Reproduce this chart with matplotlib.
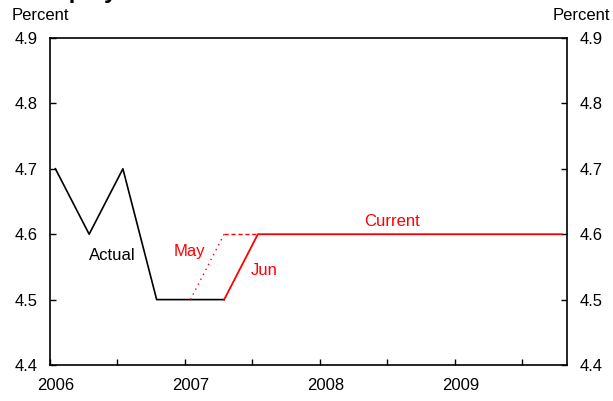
import matplotlib
matplotlib.use('Agg')
import matplotlib.pyplot as plt
import numpy as np

plt.rcParams['font.family'] = ['Liberation Sans', 'DejaVu Sans']

# quarterly points, plotted slightly after quarter start
q0 = 2006.04
actual = [4.7, 4.6, 4.7, 4.5, 4.5, 4.5]
may = [4.5, 4.6, 4.6]          # starts 2007Q1
jun = [4.5] + [4.6] * 10       # starts 2007Q2
year_labels = ['2006', '2007', '2008', '2009']
y_ticks = [4.4, 4.5, 4.6, 4.7, 4.8, 4.9]

x_act = q0 + 0.25 * np.arange(len(actual))
x_may = q0 + 1.0 + 0.25 * np.arange(len(may))
x_jun = q0 + 1.25 + 0.25 * np.arange(len(jun))

fig = plt.figure(figsize=(6.13, 4.01), dpi=100)
ax = fig.add_axes([50 / 613, 36 / 401, 517 / 613, 327 / 401])

ax.plot(x_act, actual, color='black', lw=1.2)
ax.plot(x_may[:2], may[:2], color='red', lw=1.0, ls=(0, (1, 3)))
ax.plot(x_may[1:], may[1:], color='red', lw=1.0, ls=(0, (3, 2)))
ax.plot(x_jun, jun, color='red', lw=1.3)

ax.set_xlim(2006.0, 2006.0 + 517 / 135)
ax.set_ylim(4.4, 4.9)
ax.set_yticks(y_ticks)
ax.set_yticklabels(['%.1f' % v for v in y_ticks])
ax.set_xticks(np.arange(2006.0, 2009.9, 0.5))
ax.set_xticklabels([])
ax.tick_params(axis='both', direction='in', length=4, width=1,
               labelsize=12, left=True, right=True, labelleft=True, labelright=True)
ax.tick_params(axis='y', pad=9)
for sp in ax.spines.values():
    sp.set_linewidth(1.2)

for i, lab in enumerate(year_labels):
    ax.text(2006.04 + i, -21 / 327, lab, transform=ax.get_xaxis_transform(),
            ha='center', va='center', fontsize=12)

ax.text(2006.46, 4.567, 'Actual', fontsize=12, ha='center', va='center')
ax.text(2007.03, 4.574, 'May', fontsize=12, ha='center', va='center', color='red')
ax.text(2007.59, 4.544, 'Jun', fontsize=12, ha='center', va='center', color='red')
ax.text(2008.53, 4.62, 'Current', fontsize=12, ha='center', va='center', color='red')

fig.text(12 / 613, 1 - 16 / 401, 'Percent', fontsize=12, ha='left', va='center')
fig.text(1 - 3 / 613, 1 - 16 / 401, 'Percent', fontsize=12, ha='right', va='center')
# title sits above the top edge; only its descenders show
fig.text(3 / 613, 1 + 2.5 / 401, 'Unemployment Rate', fontsize=17, fontweight='bold',
         ha='left', va='baseline')

fig.savefig('out.png', dpi=100)
